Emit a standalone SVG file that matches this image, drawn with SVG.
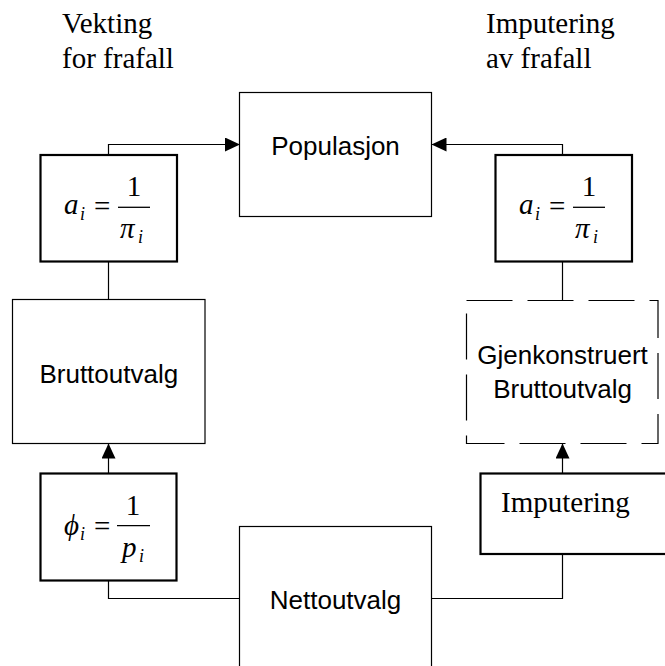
<svg xmlns="http://www.w3.org/2000/svg" width="665" height="666" viewBox="0 0 665 666">
<defs>
<marker id="arr" markerUnits="userSpaceOnUse" markerWidth="16" markerHeight="14" refX="15" refY="7" orient="auto">
<path d="M0,0 L15,7 L0,14 z" fill="#000"/>
</marker>
<style>
.box{fill:#fff;stroke:#000;stroke-width:1.2}
.thick{fill:#fff;stroke:#000;stroke-width:2.2}
.dash{fill:#fff;stroke:#000;stroke-width:1.2;stroke-dasharray:46 15}
.con{fill:none;stroke:#000;stroke-width:1.2}
.sans{font-family:"Liberation Sans",Arial,sans-serif;font-size:26px;fill:#000}
.serif{font-family:"Liberation Serif","Times New Roman",serif;font-size:29px;fill:#000}
.m{font-family:"Liberation Serif","Times New Roman",serif;font-size:29px;font-style:italic;fill:#000}
.mr{font-family:"Liberation Serif","Times New Roman",serif;font-size:29px;fill:#000}
.sub{font-family:"Liberation Serif","Times New Roman",serif;font-size:18px;font-style:italic;fill:#000}
.frac{stroke:#000;stroke-width:1.3}
</style>
</defs>
<g id="labels">
<text class="serif" x="62" y="33">Vekting</text>
<text class="serif" x="62" y="68">for frafall</text>
<text class="serif" x="486" y="33">Imputering</text>
<text class="serif" x="486" y="68">av frafall</text>
</g>
<g id="connectors">
<polyline class="con" points="108.5,155 108.5,144.5 240,144.5" marker-end="url(#arr)"/>
<polyline class="con" points="562.5,155 562.5,144.5 431.5,144.5" marker-end="url(#arr)"/>
<line class="con" x1="108.5" y1="262" x2="108.5" y2="299"/>
<line class="con" x1="562.5" y1="262" x2="562.5" y2="300"/>
<line class="con" x1="108.5" y1="473" x2="108.5" y2="443.5" marker-end="url(#arr)"/>
<line class="con" x1="562.5" y1="473" x2="562.5" y2="443.5" marker-end="url(#arr)"/>
<polyline class="con" points="108.5,581 108.5,598.5 239.5,598.5"/>
<polyline class="con" points="562.5,554 562.5,598.5 431.5,598.5"/>
</g>
<g id="populasjon">
<rect class="box" x="239.5" y="92.5" width="192" height="124"/>
<text class="sans" x="335.5" y="155" text-anchor="middle">Populasjon</text>
</g>
<g id="vekt-a-venstre">
<rect class="thick" x="40.5" y="155" width="136.5" height="106.5"/>
<text class="m" x="64" y="214">a</text>
<text class="sub" x="80" y="220">i</text>
<text class="mr" x="94" y="215.5">=</text>
<line class="frac" x1="118" y1="207.3" x2="150" y2="207.3"/>
<text class="mr" x="134" y="196" text-anchor="middle">1</text>
<text class="m" x="120" y="238">π</text>
<text class="sub" x="138" y="243">i</text>
</g>
<g id="vekt-a-hoyre">
<rect class="thick" x="495.5" y="155" width="136.5" height="106.5"/>
<text class="m" x="519" y="214">a</text>
<text class="sub" x="535" y="220">i</text>
<text class="mr" x="549" y="215.5">=</text>
<line class="frac" x1="573" y1="207.3" x2="605" y2="207.3"/>
<text class="mr" x="589" y="196" text-anchor="middle">1</text>
<text class="m" x="575" y="238">π</text>
<text class="sub" x="593" y="243">i</text>
</g>
<g id="bruttoutvalg">
<rect class="box" x="12.5" y="299.5" width="192.5" height="144"/>
<text class="sans" x="108.8" y="382.5" text-anchor="middle">Bruttoutvalg</text>
</g>
<g id="gjenkonstruert">
<rect class="dash" x="466.5" y="300.5" width="191.5" height="143"/>
<text class="sans" x="562.5" y="364" text-anchor="middle">Gjenkonstruert</text>
<text class="sans" x="562.5" y="398" text-anchor="middle">Bruttoutvalg</text>
</g>
<g id="vekt-phi">
<rect class="thick" x="40.5" y="473.5" width="136" height="107"/>
<text class="m" x="64" y="535">ϕ</text>
<text class="sub" x="80" y="540">i</text>
<text class="mr" x="94" y="535.5">=</text>
<line class="frac" x1="117" y1="525.7" x2="150" y2="525.7"/>
<text class="mr" x="133" y="515" text-anchor="middle">1</text>
<text class="m" x="122" y="556.7">p</text>
<text class="sub" x="139" y="561.5">i</text>
</g>
<g id="imputering">
<rect class="thick" x="480.5" y="473.5" width="200" height="80.5"/>
<text class="serif" x="501" y="511.7">Imputering</text>
</g>
<g id="nettoutvalg">
<rect class="box" x="239.5" y="526.5" width="192" height="160"/>
<text class="sans" x="335.5" y="609" text-anchor="middle">Nettoutvalg</text>
</g>
</svg>
